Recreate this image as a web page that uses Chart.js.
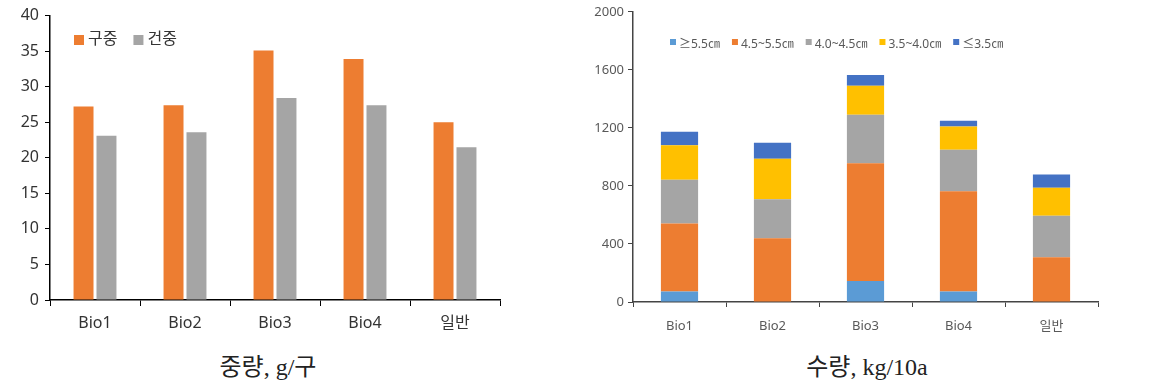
<!DOCTYPE html>
<html>
<head>
<meta charset="utf-8">
<script src="https://cdn.jsdelivr.net/npm/chart.js@4"></script>
<style>
  body { margin: 0; background: #fff; width: 1154px; height: 385px; position: relative; overflow: hidden; }
  .box { position: absolute; top: 0; height: 340px; }
  #left { left: 0; width: 560px; }
  #right { left: 580px; width: 574px; }
  .cap { position: absolute; top: 347px; font-family: "Liberation Serif", "Noto Sans CJK KR", serif; font-size: 24px; color: #222; white-space: nowrap; transform: translateX(-50%); }
</style>
</head>
<body>
<div class="box" id="left"><canvas id="weightChart"></canvas></div>
<div class="box" id="right"><canvas id="yieldChart"></canvas></div>
<div class="cap" style="left:268px">중량, g/구</div>
<div class="cap" style="left:867px">수량, kg/10a</div>
<script>
// 카테고리
const categories = ["Bio1", "Bio2", "Bio3", "Bio4", "일반"];

// 중량 (g/구)
const bulbWeight = [27.2, 27.4, 35.1, 33.9, 25.0];   // 구중
const dryWeight = [23.1, 23.6, 28.4, 27.4, 21.5];    // 건중
const weightTicks = [0, 5, 10, 15, 20, 25, 30, 35, 40];

// 수량 (kg/10a), 구 크기별
const sizeLabels = ["≥5.5㎝", "4.5~5.5㎝", "4.0~4.5㎝", "3.5~4.0㎝", "≤3.5㎝"];
const over55 = [72, 0, 144, 72, 0];
const from45to55 = [469, 439, 812, 691, 309];
const from40to45 = [301, 269, 334, 286, 285];
const from35to40 = [239, 280, 200, 160, 193];
const under35 = [93, 109, 74, 41, 92];
const yieldTicks = [0, 400, 800, 1200, 1600, 2000];

const orange = "#ED7D31";
const gray = "#A5A5A5";
const lightBlue = "#5B9BD5";
const yellow = "#FFC000";
const blue = "#4472C4";

//Leyenda dentro del área del gráfico
const innerLegend = {
  id: "innerLegend",
  afterDraw(chart, args, opts) {
    const ctx = chart.ctx;
    let x = chart.chartArea.left + opts.x;
    const y = opts.y;
    ctx.save();
    ctx.font = opts.font;
    ctx.textBaseline = "middle";
    chart.data.datasets.forEach((ds) => {
      ctx.fillStyle = ds.backgroundColor;
      ctx.fillRect(x, y - opts.box / 2 + opts.boxDy, opts.box, opts.box);
      x += opts.box + opts.textGap;
      ctx.fillStyle = opts.color;
      ctx.fillText(ds.label, x, y);
      x += ctx.measureText(ds.label).width + opts.itemGap;
    });
    ctx.restore();
  },
};

const sans = "'Noto Sans', 'Noto Sans CJK KR', sans-serif";

new Chart(document.getElementById("weightChart"), {
  type: "bar",
  plugins: [innerLegend],
  data: {
    labels: categories,
    datasets: [
      { label: "구중", data: bulbWeight, backgroundColor: orange, categoryPercentage: 0.51, barPercentage: 0.87 },
      { label: "건중", data: dryWeight, backgroundColor: gray, categoryPercentage: 0.51, barPercentage: 0.87 },
    ],
  },
  options: {
    responsive: true,
    maintainAspectRatio: false,
    animation: false,
    layout: { padding: { top: 10, right: 60, left: 0, bottom: 0 } },
    plugins: {
      legend: { display: false },
      tooltip: { enabled: false },
      innerLegend: { x: 24, y: 39, box: 10, boxDy: 1, textGap: 4, itemGap: 16, font: "16px " + sans, color: "#333" },
    },
    scales: {
      x: {
        grid: { drawOnChartArea: false, drawTicks: true, tickLength: 6, color: "#000", offset: true },
        border: { color: "#000", width: 1.5 },
        ticks: { color: "#333", font: { size: 16, family: sans }, padding: 8 },
        afterFit: (s) => { s.height = 40; },
      },
      y: {
        min: 0,
        max: 40,
        afterBuildTicks: (s) => { s.ticks = weightTicks.map((v) => ({ value: v })); },
        grid: { drawOnChartArea: false, drawTicks: true, tickLength: 5, color: "#000" },
        border: { color: "#000", width: 1.5 },
        ticks: { color: "#333", font: { size: 16, family: sans }, padding: 6 },
        afterFit: (s) => { s.width = 50; },
      },
    },
  },
});

const stackSets = [over55, from45to55, from40to45, from35to40, under35];
const stackColors = [lightBlue, orange, gray, yellow, blue];

new Chart(document.getElementById("yieldChart"), {
  type: "bar",
  plugins: [innerLegend],
  data: {
    labels: categories,
    datasets: stackSets.map((d, i) => ({
      label: sizeLabels[i],
      data: d,
      backgroundColor: stackColors[i],
      categoryPercentage: 1,
      barPercentage: 0.4,
    })),
  },
  options: {
    responsive: true,
    maintainAspectRatio: false,
    animation: false,
    layout: { padding: { top: 8, right: 56, left: 0, bottom: 0 } },
    plugins: {
      legend: { display: false },
      tooltip: { enabled: false },
      innerLegend: { x: 37, y: 45, box: 6, boxDy: -3, textGap: 3, itemGap: 12, font: "12px " + sans, color: "#595959" },
    },
    scales: {
      x: {
        stacked: true,
        grid: { drawOnChartArea: false, drawTicks: true, tickLength: 5, color: "#444", offset: true },
        border: { color: "#444", width: 1.5 },
        ticks: { color: "#595959", font: { size: 13, family: sans }, padding: 11 },
        afterFit: (s) => { s.height = 38; },
      },
      y: {
        stacked: true,
        min: 0,
        max: 2000,
        afterBuildTicks: (s) => { s.ticks = yieldTicks.map((v) => ({ value: v })); },
        grid: { drawOnChartArea: false, drawTicks: true, tickLength: 5, color: "#444" },
        border: { color: "#444", width: 1.5 },
        ticks: { color: "#595959", font: { size: 13, family: sans }, padding: 4, callback: (v) => String(v) },
        afterFit: (s) => { s.width = 53; },
      },
    },
  },
});
</script>
</body>
</html>
